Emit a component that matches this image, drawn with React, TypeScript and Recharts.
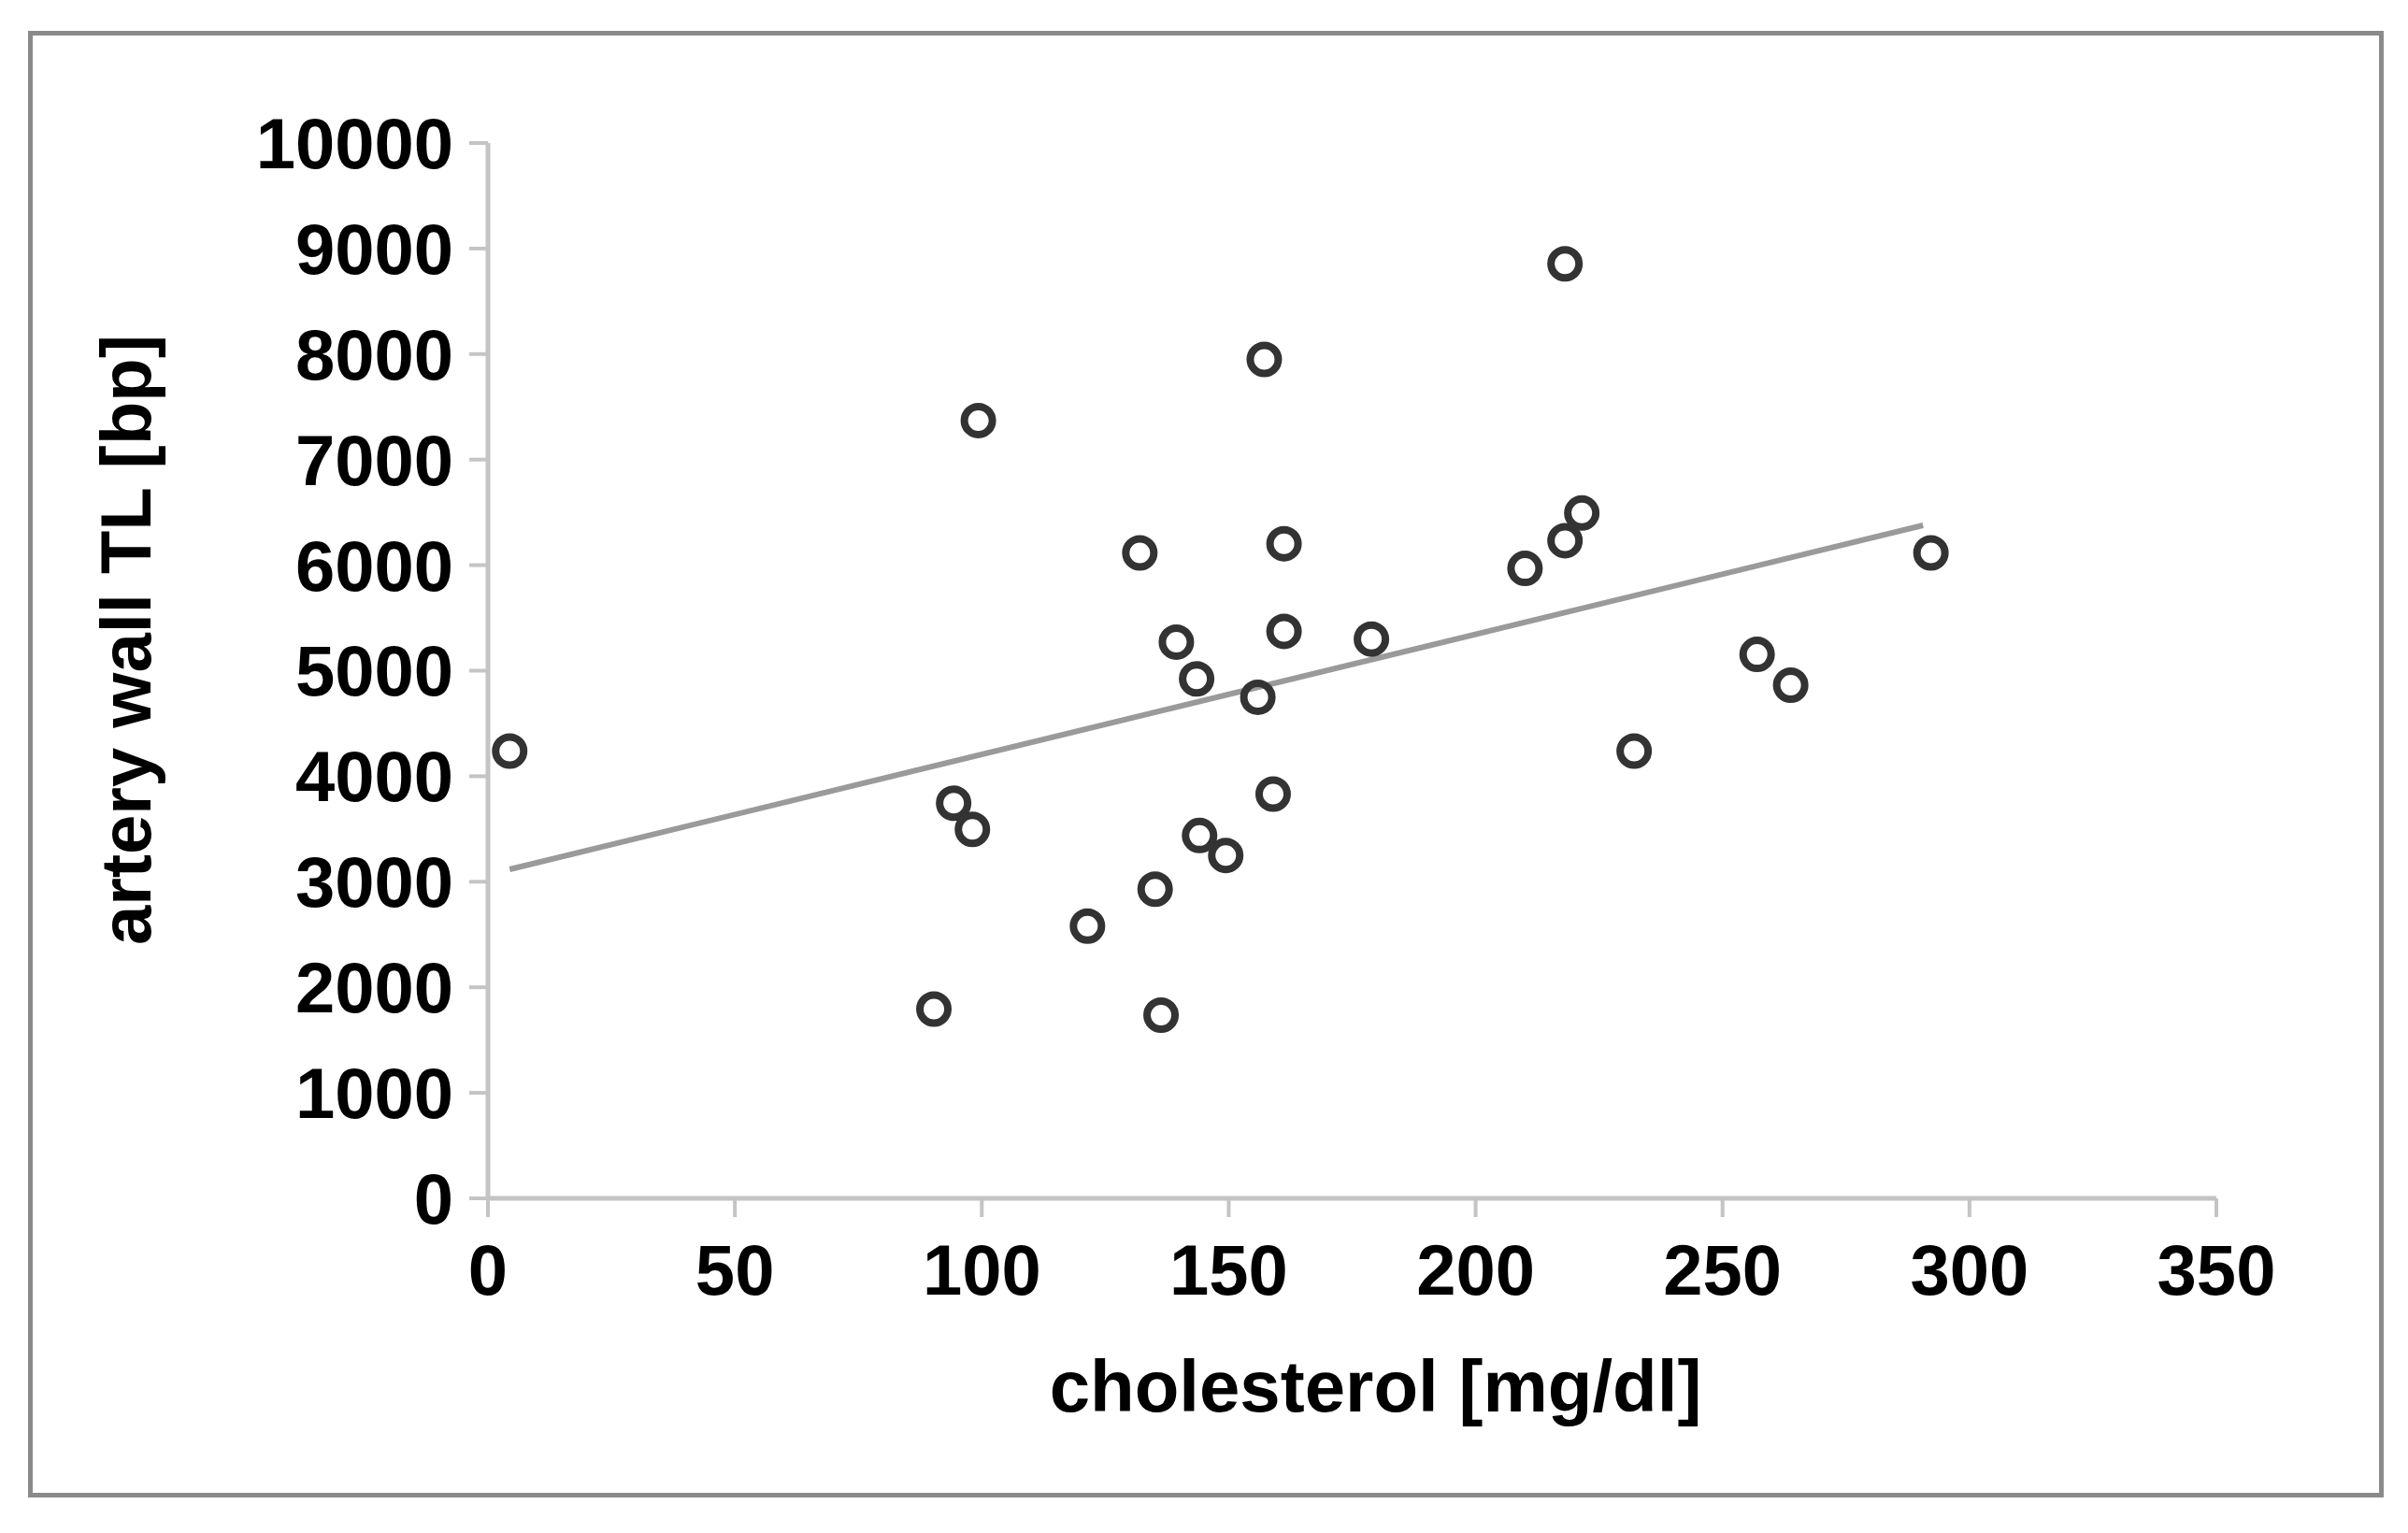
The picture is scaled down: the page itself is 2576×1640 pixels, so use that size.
import React from 'react';
import {
  ScatterChart,
  Scatter,
  XAxis,
  YAxis,
  ReferenceLine,
  Label,
} from 'recharts';

// values
const cholesterol = [
  4.4, 99.3, 94.3, 98.1, 90.3, 121.4, 132.0, 135.1, 136.3, 139.4, 143.5, 144.1, 149.4, 155.9,
  157.2, 159.0, 161.2, 161.2, 178.9, 210.0, 218.1, 218.1, 221.5, 232.1, 257.0, 263.8, 292.2,
];
const telomereLength = [
  4238, 7370, 3744, 3496, 1794, 2580, 6116, 2930, 1736, 5271, 4922, 3438, 3249, 4748,
  7949, 3831, 6203, 5373, 5300, 5969, 8855, 6232, 6494, 4238, 5154, 4863, 6116,
];

// linear trend line end points
const trendX = [4.4, 290.6];
const trendY = [3118, 6377];

const xTicks = [0, 50, 100, 150, 200, 250, 300, 350];
const yTicks = [0, 1000, 2000, 3000, 4000, 5000, 6000, 7000, 8000, 9000, 10000];

const points = cholesterol.map((x, i) => ({ x, y: telomereLength[i] }));

const FONT = '"Liberation Sans", Arial, sans-serif';
const AXIS_GREY = '#c4c4c4';

const tickStyle = { fill: '#000', fontSize: 76, fontWeight: 'bold', fontFamily: FONT };

function RingMarker(props: { cx?: number; cy?: number }) {
  const { cx, cy } = props;
  if (cx == null || cy == null) return null;
  return <circle cx={cx} cy={cy} r={15} fill="none" stroke="#333" strokeWidth={8} />;
}

export default function App() {
  return (
    <div style={{ position: 'absolute', left: 0, top: 0, width: 2576, height: 1640, background: '#fff' }}>
      <div
        style={{
          position: 'absolute',
          left: 30,
          top: 33,
          width: 2520,
          height: 1569,
          border: '5px solid #8a8a8a',
          boxSizing: 'border-box',
        }}
      />
      <div style={{ position: 'absolute', left: 0, top: 0 }}>
        <ScatterChart width={2576} height={1640} margin={{ top: 153, right: 205, bottom: 158, left: 272 }}>
          <XAxis
            type="number"
            dataKey="x"
            domain={[0, 350]}
            ticks={xTicks}
            interval={0}
            height={200}
            stroke={AXIS_GREY}
            axisLine={{ stroke: AXIS_GREY, strokeWidth: 5 }}
            tickLine={{ stroke: AXIS_GREY, strokeWidth: 4 }}
            tickSize={20}
            tickMargin={29}
            tick={tickStyle}
          >
            <Label
              value="cholesterol [mg/dl]"
              position="bottom"
              offset={-27}
              dx={25}
              style={{ fill: '#000', fontSize: 78, fontWeight: 'bold', fontFamily: FONT }}
            />
          </XAxis>
          <YAxis
            type="number"
            dataKey="y"
            domain={[0, 10000]}
            ticks={yTicks}
            interval={0}
            width={250}
            stroke={AXIS_GREY}
            axisLine={{ stroke: AXIS_GREY, strokeWidth: 5 }}
            tickLine={{ stroke: AXIS_GREY, strokeWidth: 4 }}
            tickSize={20}
            tickMargin={17}
            tick={tickStyle}
          >
            <Label
              value="artery wall TL [bp]"
              angle={-90}
              position="insideLeft"
              offset={-138}
              dy={-33}
              style={{ fill: '#000', fontSize: 76, fontWeight: 'bold', fontFamily: FONT, textAnchor: 'middle' }}
            />
          </YAxis>
          <ReferenceLine
            segment={[
              { x: trendX[0], y: trendY[0] },
              { x: trendX[1], y: trendY[1] },
            ]}
            stroke="#9a9a9a"
            strokeWidth={6}
            ifOverflow="visible"
          />
          <Scatter data={points} shape={<RingMarker />} isAnimationActive={false} />
        </ScatterChart>
      </div>
    </div>
  );
}
